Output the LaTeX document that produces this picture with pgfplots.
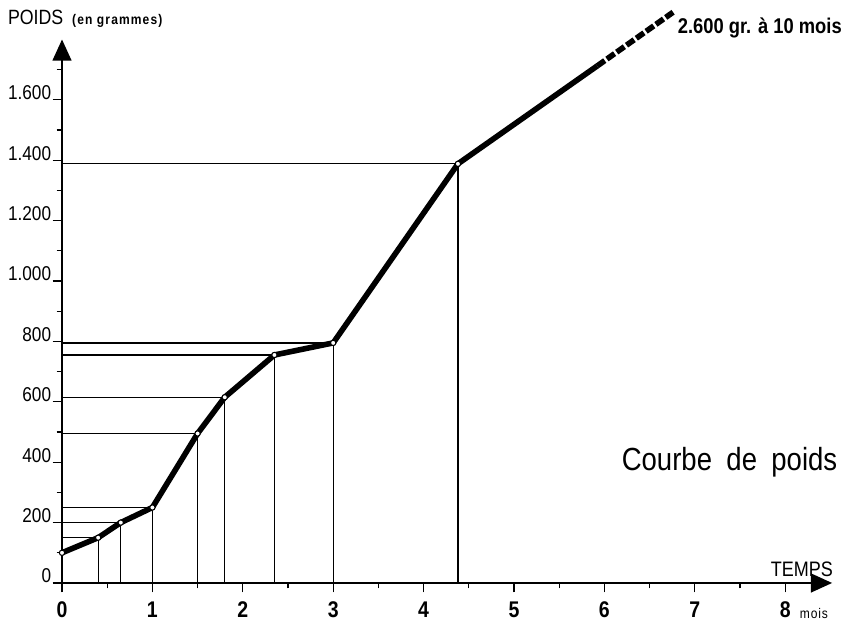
\documentclass[border=0pt]{standalone}
\usepackage{pgfplots}
\pgfplotsset{compat=1.18}
\usepackage{pgfplotstable}
\usetikzlibrary{arrows.meta}
\usepackage{fontspec}
\setmainfont{Liberation Sans}[FakeStretch=0.86]

\pgfplotstableread{
x y
0 100
0.4 150
0.65 200
1 250
1.5 495
1.8 615
2.35 755
3 795
4.38 1388
}\pts

\begin{document}
\begin{tikzpicture}
\begin{axis}[
  x=67.8pt, y=0.2265pt,
  xmin=0, xmax=8.52, ymin=0, ymax=1800,
  axis lines=left,
  axis line style={line width=2pt, -{Triangle[length=16pt,width=14pt]}},
  clip=false,
  xtick={0,...,8}, minor xtick={0.5,1.5,...,7.5},
  ytick={0,200,...,1600}, minor ytick={100,300,...,1700},
  tick align=outside,
  major tick length=7pt, minor tick length=4pt,
  tick style={line width=1pt, black},
  /pgf/number format/assume math mode=true,
  /pgf/number format/1000 sep={.},
  yticklabel style={font=\fontsize{15}{16}\selectfont, anchor=base east, inner sep=1pt},
  xticklabel style={font=\bfseries\fontsize{17}{18}\selectfont, anchor=north, inner sep=0pt, yshift=-7pt},
]
\addplot[ycomb, line width=0.9pt, no marks] table {\pts};
\addplot[xcomb, line width=0.9pt, no marks] table {\pts};
\addplot[line width=4.2pt, line join=round, no marks] coordinates {
(0,100) (0.4,150) (0.65,200) (1,250) (1.5,495) (1.8,615) (2.35,755) (3,795) (4.38,1388) (5.92,1712)};
\addplot[line width=4.2pt, dash pattern=on 7pt off 2pt, no marks] coordinates {(5.92,1712) (6.76,1890)};
\addplot[only marks, mark=*, mark size=2pt, mark options={fill=white, draw=black, line width=0.8pt}] table {\pts};

\node[anchor=base west, inner sep=0pt, font=\bfseries\fontsize{16}{17}\selectfont] at (axis cs:6.81,1821) {2.600 gr. à 10 mois};
\node[anchor=base west, inner sep=0pt, font=\fontsize{24}{26}\selectfont] at (axis cs:6.19,374) {Courbe\hspace{0.45em}de\hspace{0.45em}poids};
\node[anchor=base east, inner sep=0pt, font=\fontsize{15.7}{17}\selectfont] at (axis cs:8.53,20) {TEMPS};
\node[anchor=base west, inner sep=0pt, font=\fontsize{10.5}{12}\selectfont\addfontfeature{LetterSpace=6}] at (axis cs:8.16,-118) {mois};
\node[anchor=base west, inner sep=0pt, font=\fontsize{15.5}{17}\selectfont] at (axis cs:-0.6,1850) {POIDS};
\node[anchor=base west, inner sep=0pt, font=\bfseries\fontsize{10.5}{12}\selectfont\addfontfeature{LetterSpace=8}] at (axis cs:0.11,1850) {(en grammes)};

\coordinate (bl) at (axis cs:-0.686,-158.9);
\coordinate (tr) at (axis cs:8.673,1930.5);
\end{axis}
\pgfresetboundingbox
\useasboundingbox (bl) rectangle (tr);
\end{tikzpicture}
\end{document}
